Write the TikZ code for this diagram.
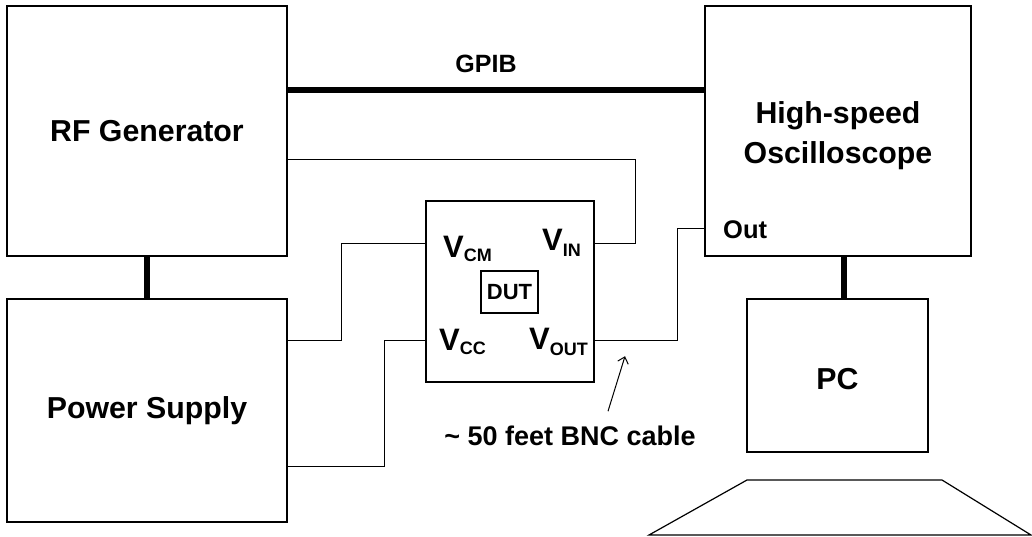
\documentclass[tikz,border=0pt]{standalone}
\usepackage{fontspec}
\setmainfont{Liberation Sans}
\usetikzlibrary{positioning,calc,arrows.meta}
\tikzset{mybox/.style={draw,line width=1.2pt,inner sep=0pt,align=center,font=\fontsize{30.3}{40}\selectfont\bfseries}}
\tikzset{mywire/.style={line width=1pt}}
\tikzset{mybus/.style={line width=6pt}}
\tikzset{mypointer/.style={line width=1pt,-{Straight Barb[length=6pt,width=11pt]}}}
\tikzset{myport/.style={inner sep=0pt,anchor=base west,font=\fontsize{31}{31}\selectfont\bfseries}}
\tikzset{mytext/.style={inner sep=0pt,anchor=base}}

\begin{document}
\begin{tikzpicture}[x=1pt,y=-1pt]
    \useasboundingbox (0,0) rectangle (1032,537);
    % instruments
    \node[mybox,minimum width=280,minimum height=250](rf) at (147,131) {RF Generator};
    \node[mybox,minimum width=280,minimum height=223](ps) at (147,410.5) {Power Supply};
    \node[mybox,minimum width=266,minimum height=250](osc) at (838,131) {};
    \node[mybox,draw=none,align=center](osctext) at (838,136) {High-speed\\Oscilloscope};
    \node[mybox,minimum width=181,minimum height=153](pc) at (837.5,375.5) {};
    \node[mybox,draw=none](pctext) at (837.5,379) {PC};
    \node[mybox,minimum width=168,minimum height=181](dut) at (510,291.5) {};
    \node[mybox,minimum width=57,minimum height=42,font=\fontsize{22}{22}\selectfont\bfseries](core) at (509.5,292) {DUT};
    % ports
    \node[myport](vcm) at (443,257) {V\raisebox{-5pt}{\fontsize{18}{18}\selectfont CM}};
    \node[myport](vin) at (542,250) {V\raisebox{-6pt}{\fontsize{18}{18}\selectfont IN}};
    \node[myport](vcc) at (439,350) {V\raisebox{-4pt}{\fontsize{18}{18}\selectfont CC}};
    \node[myport](vout) at (529,349) {V\raisebox{-6pt}{\fontsize{18}{18}\selectfont OUT}};
    \node[myport,font=\fontsize{25.5}{25.5}\selectfont\bfseries](out) at (723,238) {Out};
    \node[mytext,font=\fontsize{25}{25}\selectfont\bfseries](gpib) at (486,73) {GPIB};
    \node[mytext,font=\fontsize{27}{27}\selectfont\bfseries](cable) at (570,445) {\textasciitilde\ 50 feet BNC cable};
    % cables
    \draw[mybus] (rf.east |- 0,90) -- (osc.west |- 0,90);
    \draw[mybus] (rf) -- (ps);
    \draw[mybus] (osc.south -| 844,0) -- (pc.north -| 844,0);
    \draw[mywire] (dut.east |- 0,243) -- ++(41,0) |- (rf.east |- 0,160);
    \draw[mywire] (dut.west |- 0,243) -- ++(-84,0) |- (ps.east |- 0,340);
    \draw[mywire] (dut.west |- 0,340) -- ++(-41,0) |- (ps.east |- 0,466);
    \draw[mywire] (dut.east |- 0,340) -- ++(83,0) |- (osc.west |- 0,229);
    \draw[mypointer] ([shift={(38,-14)}]cable.north) -- ++(17,-55);
    % keyboard
    \draw[line width=1.2pt] (747,480) -- (942,480) -- (1031,535) -- (649,535) -- cycle;
\end{tikzpicture}
\end{document}
